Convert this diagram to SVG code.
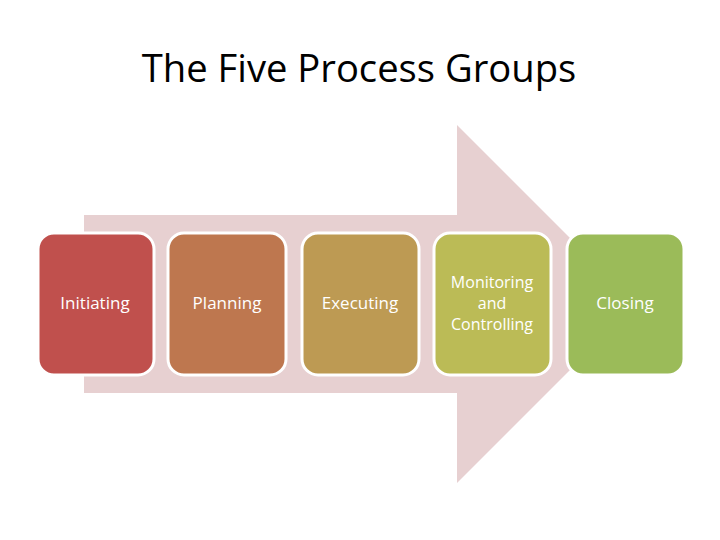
<svg xmlns="http://www.w3.org/2000/svg" width="720" height="540" viewBox="0 0 720 540">
<style>
.title{font-family:"Open Sans","Liberation Sans",sans-serif;font-size:38.2px;fill:#000;text-anchor:middle}
.box{stroke:#fff;stroke-width:3}
.lbl{font-family:"Open Sans","Liberation Sans",sans-serif;font-size:17px;fill:#fff;text-anchor:middle}
.ml{font-size:16px}
</style>
<rect width="720" height="540" fill="#fff"/>
<text class="title" x="359" y="82">The Five Process Groups</text>
<g id="arrow">
<path d="M84,215 H457 V125 L636,304 L457,483 V393 H84 Z" fill="#E7D0D1"/>
</g>
<g id="initiating">
<rect class="box" x="38" y="233" width="116" height="142" rx="16" fill="#C0504D"/>
<text class="lbl" x="95" y="309">Initiating</text>
</g>
<g id="planning">
<rect class="box" x="168" y="233" width="118" height="142" rx="16" fill="#BE774F"/>
<text class="lbl" x="227" y="309">Planning</text>
</g>
<g id="executing">
<rect class="box" x="302" y="233" width="117" height="142" rx="16" fill="#BD9A53"/>
<text class="lbl" x="360" y="309">Executing</text>
</g>
<g id="monitoring">
<rect class="box" x="434" y="233" width="117" height="142" rx="16" fill="#BBBB56"/>
<text class="lbl ml" x="492" y="288">Monitoring</text>
<text class="lbl ml" x="492" y="309">and</text>
<text class="lbl ml" x="492" y="330">Controlling</text>
</g>
<g id="closing">
<rect class="box" x="567" y="233" width="117" height="142" rx="16" fill="#9BBB59"/>
<text class="lbl" x="625" y="309">Closing</text>
</g>
<g id="connectors"></g>
</svg>
